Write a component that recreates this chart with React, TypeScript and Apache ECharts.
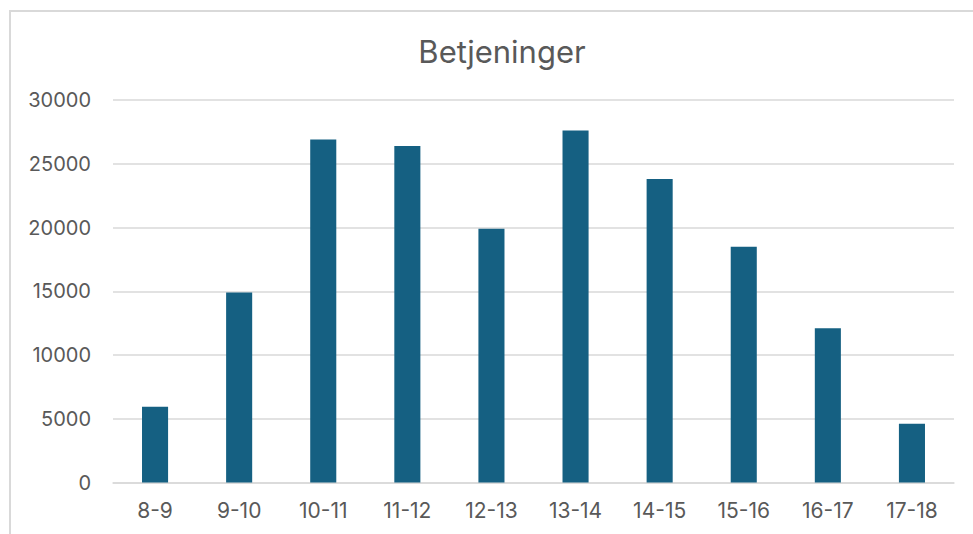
import React, { useEffect, useRef } from "react";
import * as echarts from "echarts";

const titleText = "Betjeninger";
const categories = ["8-9", "9-10", "10-11", "11-12", "12-13", "13-14", "14-15", "15-16", "16-17", "17-18"];
const values = [5950, 14900, 26900, 26400, 19900, 27600, 23800, 18500, 12100, 4600];
const yMax = 30000;
const yInterval = 5000;

export default function App() {
  const ref = useRef<HTMLDivElement>(null);
  useEffect(() => {
    if (!ref.current) return;
    const chart = echarts.init(ref.current, null, { renderer: "svg" });
    chart.setOption({
      animation: false,
      backgroundColor: "#ffffff",
      title: {
        text: titleText,
        left: 497,
        top: 31,
        textAlign: "center",
        textStyle: {
          fontFamily: "Inter",
          fontSize: 31,
          fontWeight: "normal",
          color: "#595959",
        },
      },
      graphic: [
        {
          type: "rect",
          shape: { x: 10, y: 11, width: 1000, height: 600 },
          style: { fill: "none", stroke: "#d9d9d9", lineWidth: 2 },
          silent: true,
        },
      ],
      grid: { left: 113, right: 19, top: 100, bottom: 51.5 },
      xAxis: {
        type: "category",
        data: categories,
        axisLine: { show: true, lineStyle: { color: "#d9d9d9", width: 1.5 } },
        axisTick: { show: false },
        axisLabel: {
          margin: 17,
          fontFamily: "Inter",
          fontSize: 21,
          color: "#595959",
        },
      },
      yAxis: {
        type: "value",
        min: 0,
        max: yMax,
        interval: yInterval,
        axisLine: { show: false },
        axisTick: { show: false },
        splitLine: { lineStyle: { color: "#d9d9d9", width: 1.5 } },
        axisLabel: {
          margin: 22,
          fontFamily: "Inter",
          fontSize: 20,
          color: "#595959",
          formatter: (v: number) => String(v),
        },
      },
      series: [
        {
          type: "bar",
          data: values,
          barWidth: "31%",
          itemStyle: { color: "#156082" },
        },
      ],
    });
    return () => chart.dispose();
  }, []);
  return (
    <div
      ref={ref}
      style={{ position: "fixed", left: 0, top: 0, width: 973, height: 534 }}
    />
  );
}
